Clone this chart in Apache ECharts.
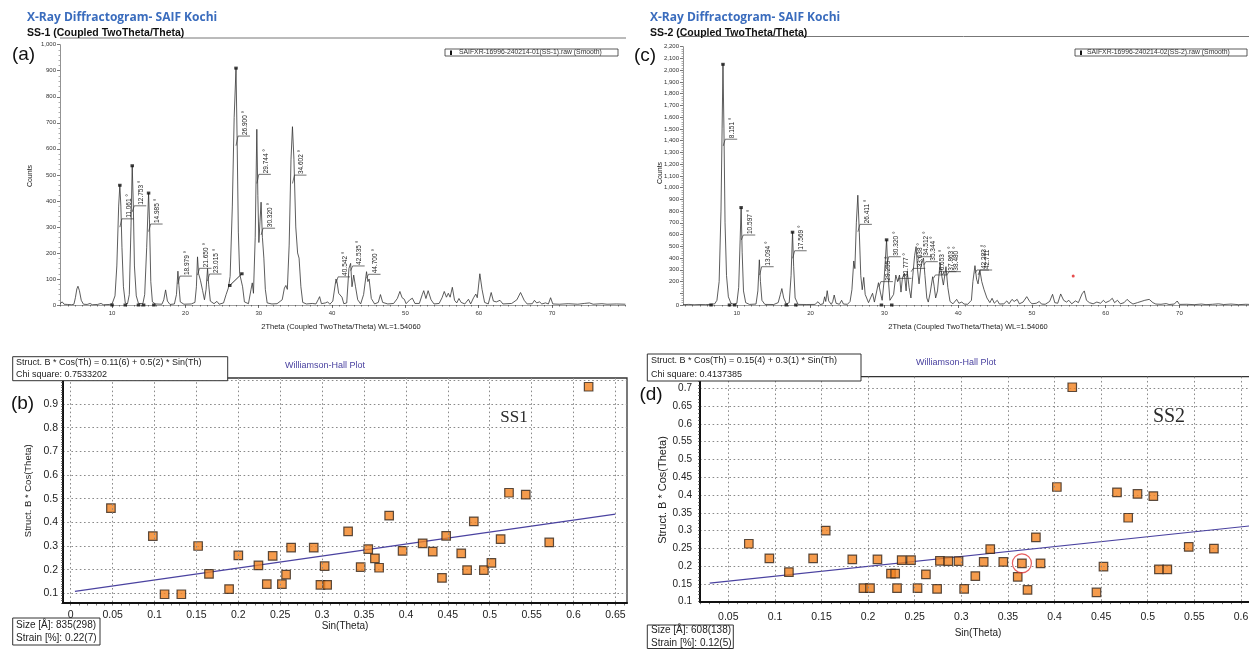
<!DOCTYPE html>
<html><head><meta charset="utf-8">
<script src="https://cdn.jsdelivr.net/npm/echarts@6/dist/echarts.min.js"></script>
<style>html,body{margin:0;padding:0;background:#fff}#c{width:1249px;height:649px}</style>
</head><body><div id="c"></div>
<script>
// ---------- XRD SS-1 profile [2theta, counts] ----------
const ss1Profile = [[2.9,5],[3.2,12],[3.45,3],[3.7,9],[3.95,2],[4.2,6],[4.5,1],[4.8,3],[5.0,28],[5.2,62],[5.35,72],[5.55,55],[5.8,18],[6.1,3],[6.6,2],[7.0,6],[7.3,1],[8.0,2],[8.5,6],[8.8,1],[9.6,2],[10.0,4],[10.4,35],[10.65,150],[10.9,380],[11.06,460],[11.2,380],[11.35,220],[11.55,70],[11.8,8],[12.1,4],[12.35,40],[12.58,300],[12.75,535],[12.9,380],[13.05,150],[13.3,35],[13.6,6],[14.2,5],[14.45,40],[14.72,220],[14.98,430],[15.1,330],[15.28,90],[15.5,12],[15.9,4],[16.8,3],[17.05,20],[17.3,58],[17.55,15],[17.9,2],[18.5,4],[18.78,40],[18.98,130],[19.12,75],[19.3,12],[19.8,3],[20.8,4],[21.3,10],[21.5,70],[21.65,185],[21.8,120],[22.05,95],[22.35,55],[22.6,20],[22.82,60],[23.02,140],[23.17,80],[23.4,15],[23.9,5],[24.3,14],[24.6,3],[25.2,8],[25.55,40],[25.85,65],[26.1,110],[26.4,380],[26.65,720],[26.9,910],[27.05,640],[27.22,280],[27.4,120],[27.6,118],[27.8,70],[28.05,12],[28.6,5],[28.95,60],[29.12,85],[29.28,45],[29.52,260],[29.74,675],[29.88,420],[30.02,240],[30.17,320],[30.32,395],[30.5,260],[30.7,180],[30.9,60],[31.15,8],[31.8,4],[32.5,5],[33.2,20],[33.5,65],[33.7,75],[33.9,60],[34.15,230],[34.4,560],[34.6,685],[34.8,560],[35.05,300],[35.3,200],[35.5,180],[35.75,70],[36.0,10],[36.5,4],[37.3,6],[37.8,4],[38.1,20],[38.3,32],[38.55,5],[39.1,8],[39.4,12],[39.7,3],[40.1,15],[40.54,100],[40.7,85],[40.9,45],[41.1,40],[41.35,30],[41.6,5],[42.0,8],[42.3,140],[42.53,160],[42.72,70],[42.95,115],[43.2,70],[43.5,20],[43.9,4],[44.3,40],[44.7,128],[44.88,90],[45.05,100],[45.35,25],[45.8,4],[46.3,10],[46.6,40],[46.9,10],[47.6,4],[48.4,6],[48.9,25],[49.25,52],[49.55,28],[49.85,22],[50.1,5],[50.6,20],[50.95,26],[51.3,6],[51.9,6],[52.3,40],[52.5,55],[52.8,25],[53.1,55],[53.5,20],[53.9,4],[54.6,6],[55.0,28],[55.3,52],[55.6,30],[55.85,45],[56.1,30],[56.4,68],[56.7,18],[57.0,8],[57.3,25],[57.6,10],[58.1,4],[58.6,22],[58.9,4],[59.3,28],[59.6,42],[59.8,28],[60.15,120],[60.45,60],[60.8,10],[61.3,4],[61.7,48],[62.0,15],[62.4,12],[62.9,18],[63.3,4],[64.5,6],[65.2,20],[65.7,48],[66.2,18],[66.6,4],[67.3,5],[67.6,18],[67.9,8],[68.3,12],[68.6,4],[69.1,8],[69.5,4],[69.8,28],[70.1,4],[71.0,3],[72.2,5],[73.5,3],[74.4,6],[75.1,8],[75.6,3],[76.8,5],[77.5,3],[78.8,4],[80,3]];
// ---------- XRD SS-2 profile ----------
const ss2Profile = [[2.7,3],[3.5,5],[4.2,2],[5.0,4],[5.8,3],[6.5,6],[7.0,10],[7.3,40],[7.6,200],[7.85,800],[8.0,1500],[8.12,2050],[8.25,1500],[8.4,700],[8.6,250],[8.85,70],[9.2,15],[9.6,5],[10.0,15],[10.25,150],[10.45,560],[10.58,830],[10.72,450],[10.9,120],[11.2,20],[11.7,5],[12.6,8],[12.85,120],[13.05,385],[13.2,200],[13.4,40],[13.8,5],[15.0,4],[15.6,20],[15.9,90],[16.1,140],[16.35,60],[16.7,8],[17.1,20],[17.35,250],[17.55,620],[17.7,330],[17.9,60],[18.3,5],[19.5,4],[20.6,5],[21.0,28],[21.3,4],[21.7,10],[21.9,70],[22.05,30],[22.25,122],[22.45,35],[22.8,5],[23.0,30],[23.2,85],[23.45,15],[23.9,6],[24.2,40],[24.45,8],[25.0,6],[25.35,30],[25.6,130],[25.85,375],[26.0,310],[26.2,700],[26.4,935],[26.6,620],[26.8,250],[27.0,130],[27.2,235],[27.4,90],[27.6,80],[27.85,20],[28.1,12],[28.4,100],[28.65,25],[28.9,40],[29.2,190],[29.45,110],[29.7,40],[29.95,200],[30.3,555],[30.5,250],[30.75,40],[30.95,25],[31.25,90],[31.55,255],[31.8,200],[32.05,255],[32.25,110],[32.45,230],[32.7,270],[32.95,120],[33.1,284],[33.35,150],[33.6,60],[33.85,250],[34.1,420],[34.3,497],[34.5,300],[34.7,180],[34.95,330],[35.3,400],[35.5,250],[35.75,60],[35.95,25],[36.2,100],[36.55,241],[36.75,160],[36.95,60],[37.2,120],[37.55,355],[37.8,240],[38.0,170],[38.35,326],[38.6,150],[38.9,30],[39.3,10],[39.8,48],[40.1,15],[40.5,25],[40.8,8],[41.3,6],[41.8,40],[42.0,200],[42.28,335],[42.5,220],[42.7,180],[42.95,295],[43.2,200],[43.5,133],[43.9,60],[44.3,20],[44.6,57],[44.9,15],[45.3,40],[45.6,8],[46.2,10],[46.6,35],[46.9,10],[47.3,48],[47.6,30],[48.0,48],[48.3,10],[48.8,25],[49.3,71],[49.7,30],[50.0,10],[50.6,15],[51.0,30],[51.3,8],[51.8,6],[52.4,30],[52.8,91],[53.1,20],[53.5,15],[53.9,94],[54.3,40],[54.7,25],[55.0,40],[55.4,10],[55.9,35],[56.3,20],[56.8,95],[57.1,120],[57.4,40],[57.8,20],[58.3,10],[58.8,25],[59.3,15],[59.7,40],[60.0,20],[60.5,35],[60.9,57],[61.2,20],[61.6,40],[62.0,10],[62.5,20],[62.9,48],[63.3,25],[63.7,8],[64.3,20],[64.8,30],[65.3,40],[65.9,48],[66.4,20],[66.8,8],[67.5,6],[68.2,12],[68.6,4],[69.3,8],[69.7,34],[70.0,5],[71.0,6],[72.0,3],[73.0,8],[73.6,3],[74.5,6],[75.3,10],[76.0,4],[77.0,8],[78.0,3],[79.0,6],[80,4]];
// peak labels: [2theta, leader start counts, leader end counts, text]
const ss1PeakLabels = [[11.061,299,331,'11.061 °'],[12.753,358,381,'12.753 °'],[14.985,282,311,'14.985 °'],[18.979,81,111,'18.979 °'],[21.650,115,141,'21.650 °'],[23.015,92,119,'23.015 °'],[26.900,612,649,'26.900 °'],[29.744,467,502,'29.744 °'],[30.320,269,295,'30.320 °'],[34.602,467,499,'34.602 °'],[40.542,83,108,'40.542 °'],[42.535,132,150,'42.535 °'],[44.700,103,118,'44.700 °']];
const ss2PeakLabels = [[8.151,1355,1412,'8.151 °'],[10.597,554,596,'10.597 °'],[13.094,255,326,'13.094 °'],[17.569,398,462,'17.569 °'],[26.411,624,687,'26.411 °'],[29.255,156,199,'29.255 °'],[30.320,341,411,'30.320 °'],[31.777,199,227,'31.777 °'],[33.638,284,312,'33.638 °'],[34.512,383,411,'34.512 °'],[35.344,341,369,'35.344 °'],[36.653,227,256,'36.653 °'],[37.863,256,284,'37.863 °'],[38.480,256,284,'38.480 °'],[42.283,270,298,'42.283 °'],[42.711,256,298,'42.711 °']];
const ss1Markers = [[10.0,0],[11.8,0],[13.6,0],[14.3,0],[15.7,0],[11.06,460],[12.75,535],[14.98,430],[26.9,910],[26.05,75],[27.7,120]];
const ss1MarkerLine = [[26.05,75],[27.7,120]];
const ss2Markers = [[6.5,0],[9.0,0],[9.7,0],[16.7,0],[18.0,0],[29.6,0],[31.0,0],[8.12,2050],[10.58,830],[17.55,620],[30.3,555]];
const ss2RedDot = [[55.6,247]];
const xrdXTicks = [10,20,30,40,50,60,70];
// ---------- Williamson-Hall data [sin(theta), B*cos(theta)] ----------
const whSS1Points = [[0.048,0.46],[0.098,0.342],[0.112,0.096],[0.132,0.096],[0.152,0.3],[0.165,0.182],[0.189,0.118],[0.2,0.26],[0.224,0.218],[0.234,0.139],[0.241,0.258],[0.252,0.139],[0.257,0.179],[0.263,0.293],[0.29,0.293],[0.298,0.136],[0.303,0.215],[0.306,0.136],[0.331,0.362],[0.346,0.211],[0.355,0.287],[0.363,0.248],[0.368,0.208],[0.38,0.428],[0.396,0.279],[0.42,0.311],[0.432,0.276],[0.443,0.165],[0.448,0.343],[0.466,0.269],[0.473,0.198],[0.481,0.404],[0.493,0.198],[0.502,0.229],[0.513,0.329],[0.523,0.525],[0.543,0.517],[0.571,0.315],[0.618,0.973]];
const whSS1Fit = [[0.005,0.108],[0.65,0.435]];
const whSS2Points = [[0.072,0.263],[0.094,0.222],[0.115,0.183],[0.141,0.222],[0.1545,0.3],[0.183,0.219],[0.195,0.138],[0.202,0.138],[0.21,0.219],[0.2245,0.179],[0.229,0.179],[0.231,0.138],[0.236,0.217],[0.246,0.217],[0.253,0.138],[0.262,0.177],[0.274,0.136],[0.277,0.215],[0.286,0.214],[0.297,0.214],[0.303,0.136],[0.315,0.172],[0.324,0.212],[0.331,0.248],[0.345,0.212],[0.3605,0.17],[0.365,0.208],[0.371,0.133],[0.38,0.281],[0.385,0.208],[0.4025,0.4225],[0.419,0.703],[0.445,0.126],[0.4525,0.1985],[0.467,0.4075],[0.479,0.336],[0.489,0.403],[0.506,0.397],[0.512,0.191],[0.521,0.191],[0.544,0.254],[0.571,0.249]];
const whSS2Fit = [[0.03,0.152],[0.62,0.316]];
const whSS2Circled = [[0.365,0.208]];
const whBXTicks = [0,0.05,0.1,0.15,0.2,0.25,0.3,0.35,0.4,0.45,0.5,0.55,0.6,0.65];
const whBYTicks = [0.1,0.2,0.3,0.4,0.5,0.6,0.7,0.8,0.9,1.0];
const whBYLabels = [0.1,0.2,0.3,0.4,0.5,0.6,0.7,0.8,0.9];
const whDXTicks = [0.05,0.1,0.15,0.2,0.25,0.3,0.35,0.4,0.45,0.5,0.55,0.6];
const whDYTicks = [0.1,0.15,0.2,0.25,0.3,0.35,0.4,0.45,0.5,0.55,0.6,0.65,0.7];

// ---------- helpers ----------
function range(a,b,s){const r=[];for(let v=a;v<=b+1e-9;v+=s)r.push(+v.toFixed(4));return r;}
const fmtK = v => v>=1000 ? Math.floor(v/1000)+','+String(v%1000).padStart(3,'0') : String(v);
const fmtD = v => String(Math.round(v*100)/100);
const F = 'Arial, "Liberation Sans", sans-serif';

function peakRenderer(labels){
  return function(params, api){
    const p0 = api.coord([api.value(0), api.value(1)]);
    const y1 = api.coord([api.value(0), api.value(2)])[1];
    return {type:'group', children:[
      {type:'polyline', shape:{points:[[p0[0],p0[1]],[p0[0]+2,y1],[p0[0]+14,y1]]}, style:{stroke:'#333', lineWidth:0.7, fill:null}},
      {type:'text', x:p0[0]+9, y:y1-1, rotation:Math.PI/2, style:{text:labels[params.dataIndex][3], font:'6.5px '+F, fill:'#222', textAlign:'left', textVerticalAlign:'middle'}}
    ]};
  };
}

const xrdMainX = (gi,min,max) => ({type:'value', gridIndex:gi, min, max, position:'bottom',
  axisLine:{show:true, onZero:false, lineStyle:{color:'#888', width:0.8}},
  axisTick:{show:true, length:3, customValues:xrdXTicks, lineStyle:{color:'#555', width:0.8}},
  axisLabel:{show:true, customValues:xrdXTicks, fontSize:6, color:'#333', margin:5, fontFamily:F},
  splitLine:{show:false}});
const minorX = (gi,min,max,ticks,len) => ({type:'value', gridIndex:gi, min, max, position:'bottom',
  axisLine:{show:false, onZero:false}, axisLabel:{show:false}, splitLine:{show:false},
  axisTick:{show:true, length:len, customValues:ticks, lineStyle:{color:'#444', width:0.7}}});
const minorY = (gi,min,max,ticks,len) => ({type:'value', gridIndex:gi, min, max, position:'left',
  axisLine:{show:false, onZero:false}, axisLabel:{show:false}, splitLine:{show:false},
  axisTick:{show:true, length:len, customValues:ticks, lineStyle:{color:'#444', width:0.7}}});
const xrdY = (gi,max,hide100) => ({type:'value', gridIndex:gi, min:0, max, interval:100, position:'left',
  axisLine:{show:true, onZero:false, lineStyle:{color:'#777', width:0.8}},
  axisTick:{show:true, length:3, lineStyle:{color:'#555', width:0.8}},
  minorTick:{show:true, splitNumber:5, length:1.5, lineStyle:{color:'#777', width:0.6}},
  axisLabel:{fontSize:6, color:'#333', margin:4, fontFamily:F, formatter: v => (hide100 && v===100) ? '' : fmtK(v)},
  splitLine:{show:false}});
const dotted = {show:true, lineStyle:{color:'#8a8a8a', width:1, type:[1.6,2.6]}};
const whX = (gi,min,max,ticks,margin) => ({type:'value', gridIndex:gi, min, max, position:'bottom', z:5,
  axisLine:{show:true, onZero:false, lineStyle:{color:'#111', width:2}},
  axisTick:{show:false, customValues:ticks},
  axisLabel:{customValues:ticks, fontSize:10.5, color:'#222', margin, fontFamily:F, formatter:fmtD},
  splitLine:dotted});
const whY = (gi,min,max,ticks,labels,fs,margin) => ({type:'value', gridIndex:gi, min, max, position:'left',
  axisLine:{show:true, onZero:false, lineStyle:{color:'#111', width:2}},
  axisTick:{show:false, customValues:ticks},
  axisLabel:{customValues:labels, fontSize:fs, color:'#222', margin, fontFamily:F, formatter:fmtD},
  splitLine:dotted});

const gridBase = {containLabel:false, outerBoundsMode:'none'};
const txt = (x,y,text,font,fill,z) => ({type:'text', x, y, z:(z===undefined?100:z), z2:10, style:{text, font, fill:fill||'#222', textAlign:'left', textVerticalAlign:'middle'}});
const ctxt = (x,y,text,font,fill,rot) => ({type:'text', x, y, z:100, rotation:rot||0, style:{text, font, fill:fill||'#222', textAlign:'center', textVerticalAlign:'middle'}});
const box = (x,y,w,h,lw,z) => ({type:'rect', z:(z===undefined?99:z), z2:0, shape:{x,y,width:w,height:h}, style:{fill:'#fff', stroke:'#333', lineWidth:lw||1}});

const chart = echarts.init(document.getElementById('c'), null, {renderer:'canvas'});
chart.setOption({
  animation:false,
  backgroundColor:'#fff',
  textStyle:{fontFamily:F},
  grid:[
    Object.assign({left:60, right:623.6, top:44.7, bottom:344}, gridBase),
    Object.assign({left:683, right:-4.2, top:46.7, bottom:344}, gridBase),
    Object.assign({left:63, right:622, top:378, bottom:46, show:true, borderColor:'#333', borderWidth:1.3, backgroundColor:'transparent'}, gridBase),
    Object.assign({left:700, right:-19.9, top:376.7, bottom:47.3, show:true, borderColor:'#333', borderWidth:1.3, backgroundColor:'transparent'}, gridBase)
  ],
  xAxis:[
    xrdMainX(0,2.9,80), minorX(0,2.9,80,range(3,80,1),1.5),
    xrdMainX(1,2.7,80), minorX(1,2.7,80,range(3,80,1),1.5),
    whX(2,-0.0092,0.6638,whBXTicks,7), minorX(2,-0.0092,0.6638,range(0,0.66,0.01),2.5),
    whX(3,0.0196,0.63,whDXTicks,10), minorX(3,0.0196,0.63,range(0.02,0.63,0.01),2.5)
  ],
  yAxis:[
    xrdY(0,1000,false), xrdY(1,2200,true),
    whY(2,0.059,1.01,whBYTicks,whBYLabels,10.5,5), minorY(2,0.059,1.01,range(0.06,1.01,0.01),2),
    whY(3,0.1,0.7327,whDYTicks,whDYTicks,10,8), minorY(3,0.1,0.7327,range(0.1,0.73,0.01),2)
  ],
  series:[
    {type:'line', xAxisIndex:0, yAxisIndex:0, data:ss1Profile, showSymbol:false, symbol:'none', lineStyle:{color:'#333', width:0.8}, z:3},
    {type:'line', xAxisIndex:0, yAxisIndex:0, data:ss1MarkerLine, symbol:'none', lineStyle:{color:'#222', width:0.9}, z:4},
    {type:'scatter', xAxisIndex:0, yAxisIndex:0, data:ss1Markers, symbol:'rect', symbolSize:[3.5,3], itemStyle:{color:'#111'}, z:5},
    {type:'custom', xAxisIndex:0, yAxisIndex:0, data:ss1PeakLabels.map(d=>[d[0],d[1],d[2]]), encode:{x:0,y:[1,2]}, renderItem:peakRenderer(ss1PeakLabels), clip:false, z:6},
    {type:'line', xAxisIndex:2, yAxisIndex:1, data:ss2Profile, showSymbol:false, symbol:'none', lineStyle:{color:'#333', width:0.8}, z:3},
    {type:'scatter', xAxisIndex:2, yAxisIndex:1, data:ss2Markers, symbol:'rect', symbolSize:[3.5,3], itemStyle:{color:'#111'}, z:5},
    {type:'scatter', xAxisIndex:2, yAxisIndex:1, data:ss2RedDot, symbol:'circle', symbolSize:3, itemStyle:{color:'#e02020'}, z:5},
    {type:'custom', xAxisIndex:2, yAxisIndex:1, data:ss2PeakLabels.map(d=>[d[0],d[1],d[2]]), encode:{x:0,y:[1,2]}, renderItem:peakRenderer(ss2PeakLabels), clip:false, z:6},
    {type:'line', xAxisIndex:4, yAxisIndex:2, data:whSS1Fit, symbol:'none', lineStyle:{color:'#4a42a0', width:1.2}, z:3},
    {type:'scatter', xAxisIndex:4, yAxisIndex:2, data:whSS1Points, symbol:'rect', symbolSize:8.5, itemStyle:{color:'#f3821f', borderColor:'#33261c', borderWidth:1.2}, clip:false, z:4},
    {type:'line', xAxisIndex:6, yAxisIndex:4, data:whSS2Fit, symbol:'none', lineStyle:{color:'#4a42a0', width:1.2}, z:3},
    {type:'scatter', xAxisIndex:6, yAxisIndex:4, data:whSS2Points, symbol:'rect', symbolSize:8.5, itemStyle:{color:'#f3821f', borderColor:'#33261c', borderWidth:1.2}, clip:false, z:4},
    {type:'scatter', xAxisIndex:6, yAxisIndex:4, data:whSS2Circled, symbol:'circle', symbolSize:19, itemStyle:{color:'rgba(0,0,0,0)', borderColor:'#e03535', borderWidth:1.2}, clip:false, z:5}
  ],
  graphic:[
    // XRD titles
    txt(27,18,'X-Ray Diffractogram- SAIF Kochi','bold 12px "Open Sans", Arial','#3a6cbd'),
    txt(27,33,'SS-1 (Coupled TwoTheta/Theta)','bold 10.5px '+F,'#111'),
    {type:'line', z:98, shape:{x1:60,y1:38,x2:626,y2:38}, style:{stroke:'#777', lineWidth:1}},
    txt(650,18,'X-Ray Diffractogram- SAIF Kochi','bold 12px "Open Sans", Arial','#3a6cbd'),
    txt(650,33,'SS-2 (Coupled TwoTheta/Theta)','bold 10.5px '+F,'#111'),
    {type:'line', z:98, shape:{x1:678,y1:36.5,x2:1249,y2:36.5}, style:{stroke:'#777', lineWidth:1}},
    ctxt(23.5,54.5,'(a)','19px '+F,'#111'),
    ctxt(645,56,'(c)','19px '+F,'#111'),
    ctxt(22.5,404,'(b)','19px '+F,'#111'),
    ctxt(651,395,'(d)','19px '+F,'#111'),
    // XRD legends
    box(445,49,173,7,0.8),
    {type:'rect', z:100, shape:{x:450,y:50.5,width:2,height:4.5}, style:{fill:'#111'}},
    txt(459,52.6,'SAIFXR-16996-240214-01(SS-1).raw (Smooth)','6.8px '+F,'#333'),
    box(1075,49,172,7,0.8),
    {type:'rect', z:100, shape:{x:1080,y:50.5,width:2,height:4.5}, style:{fill:'#111'}},
    txt(1087,52.6,'SAIFXR-16996-240214-02(SS-2).raw (Smooth)','6.8px '+F,'#333'),
    // XRD axis names
    ctxt(30,176,'Counts','7px '+F,'#222',Math.PI/2),
    ctxt(660,173,'Counts','7px '+F,'#222',Math.PI/2),
    ctxt(341,327,'2Theta (Coupled TwoTheta/Theta) WL=1.54060','7.5px '+F,'#222'),
    ctxt(968,327,'2Theta (Coupled TwoTheta/Theta) WL=1.54060','7.5px '+F,'#222'),
    // WH (b)
    ctxt(325,365.7,'Williamson-Hall Plot','9px '+F,'#4a42a0'),
    box(12.7,356.7,215,24,1),
    txt(16,362.6,'Struct. B * Cos(Th) = 0.11(6) + 0.5(2) * Sin(Th)','9px '+F,'#222'),
    txt(16,374.6,'Chi square: 0.7533202','9px '+F,'#222'),
    box(12.7,618,87.3,27,1,-1),
    txt(16,625,'Size [Å]: 835(298)','10px '+F,'#222',-1),
    txt(16,638,'Strain [%]: 0.22(7)','10px '+F,'#222',-1),
    ctxt(28.3,490.7,'Struct. B * Cos(Theta)','9.5px '+F,'#222',Math.PI/2),
    ctxt(345,626.7,'Sin(Theta)','10px '+F,'#222'),
    ctxt(514,418,'SS1','17px "Times New Roman", "Liberation Serif", serif','#2a2a2a'),
    // WH (d)
    ctxt(956,362.3,'Williamson-Hall Plot','9px '+F,'#4a42a0'),
    box(647.3,354,213.7,27,1),
    txt(651,360.5,'Struct. B * Cos(Th) = 0.15(4) + 0.3(1) * Sin(Th)','9px '+F,'#222'),
    txt(651,374.5,'Chi square: 0.4137385','9px '+F,'#222'),
    box(647.3,625,86,23.5,1,-1),
    txt(651,630.5,'Size [Å]: 608(138)','10px '+F,'#222',-1),
    txt(651,643,'Strain [%]: 0.12(5)','10px '+F,'#222',-1),
    ctxt(663.3,490,'Struct. B * Cos(Theta)','11px '+F,'#222',Math.PI/2),
    ctxt(978,633.3,'Sin(Theta)','10px '+F,'#222'),
    ctxt(1169,417,'SS2','20px "Times New Roman", "Liberation Serif", serif','#2a2a2a')
  ]
});
</script></body></html>
